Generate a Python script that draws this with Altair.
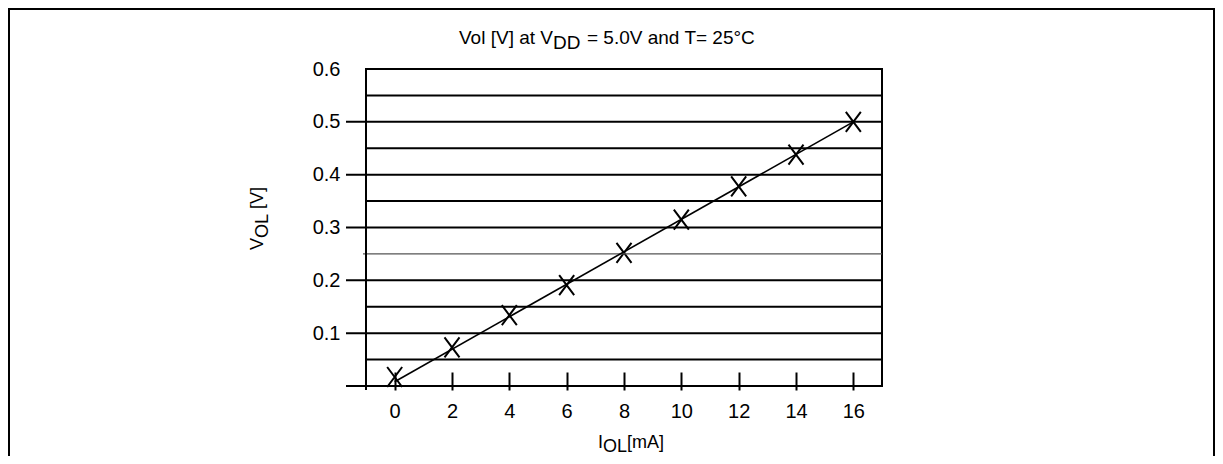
import altair as alt
import pandas as pd

# ---- data ----
current_mA = [0, 2, 4, 6, 8, 10, 12, 14, 16]
vol_V = [0.017, 0.073, 0.134, 0.191, 0.252, 0.315, 0.378, 0.438, 0.500]
fit_x = [0, 16]
fit_y = [0.008, 0.500]
x_ticks = [0, 2, 4, 6, 8, 10, 12, 14, 16]
y_labels = [0.1, 0.2, 0.3, 0.4, 0.5, 0.6]
major_grid = [0.0, 0.1, 0.2, 0.3, 0.4, 0.5]
minor_grid = [0.05, 0.15, 0.35, 0.45, 0.55]
faint_grid = [0.25]

title_parts = ["Vol [V] at V", "DD", "= 5.0V and T= 25°C"]
ytitle_parts = ["V", "OL", "[V]"]
xtitle_parts = ["I", "OL", "[mA]"]

# ---- layout / style ----
W, H = 516, 317
FONT = "Liberation Sans"
LABEL_SIZE = 20

xs = alt.Scale(domain=[-1, 17], nice=False, zero=False)
ys = alt.Scale(domain=[0, 0.6], nice=False, zero=False)

pts = pd.DataFrame({"x": current_mA, "y": vol_V})
fit = pd.DataFrame({"x": fit_x, "y": fit_y})

x_axis = alt.Axis(values=x_ticks, offset=-14, domain=False, grid=False,
                  tickSize=18, tickWidth=2, tickColor="black",
                  labelFontSize=LABEL_SIZE, labelFont=FONT, labelColor="black",
                  labelPadding=27, labelBaseline="alphabetic",
                  labelFlush=False, labelOverlap=False, labelBound=False)
y_axis = alt.Axis(values=y_labels, domain=False, grid=False, ticks=False,
                  tickSize=0, labelFontSize=LABEL_SIZE, labelFont=FONT,
                  labelColor="black", labelPadding=26, format=".1f",
                  labelOverlap=False, labelBound=False, labelFlush=False)

x_enc = alt.X("x:Q", scale=xs, title=None, axis=x_axis)
y_enc = alt.Y("y:Q", scale=ys, title=None, axis=y_axis)


def hrules(vals, x0, width, color):
    return alt.Chart(pd.DataFrame({"y": vals})).mark_rule(
        color=color, strokeWidth=width
    ).encode(y=y_enc, x=alt.value(x0), x2=alt.value(W))


def txt(s, x, y, size, angle=0):
    return alt.Chart(alt.Data(values=[{"t": s}])).mark_text(
        font=FONT, fontSize=size, align="left", baseline="alphabetic",
        angle=angle, color="black",
    ).encode(x=alt.value(x), y=alt.value(y), text="t:N")


def vline(x, y0, y1, width=2):
    return alt.Chart(alt.Data(values=[{}])).mark_rule(
        color="black", strokeWidth=width
    ).encode(x=alt.value(x), y=alt.value(y0), y2=alt.value(y1))


def hline(y, x0, x1, width=2):
    return alt.Chart(alt.Data(values=[{}])).mark_rule(
        color="black", strokeWidth=width
    ).encode(y=alt.value(y), x=alt.value(x0), x2=alt.value(x1))


markers = alt.Chart(pts).mark_point(
    shape="M-0.75,-1L0.75,1M-0.75,1L0.75,-1", size=400, filled=False,
    stroke="black", strokeWidth=2, opacity=1,
).encode(x=x_enc, y=y_enc)

major = hrules(major_grid, -20, 2, "black")
minor = hrules(minor_grid, 0, 2, "black")
faint = hrules(faint_grid, -3, 1.2, "#555555")

line = alt.Chart(fit).mark_line(color="black", strokeWidth=1.6).encode(
    x=x_enc, y=y_enc,
)

left_axis = vline(0, 0, H + 4)

title = [
    txt(title_parts[0], 93, -25, 19),
    txt(title_parts[1], 187, -20, 19),
    txt(title_parts[2], 221, -25, 19),
]
xtitle = [
    txt(xtitle_parts[0], 232, 379, 18),
    txt(xtitle_parts[1], 237, 383, 18),
    txt(xtitle_parts[2], 261, 379, 18),
]
ytitle = [
    txt(ytitle_parts[0], -103, 181, 18, 270),
    txt(ytitle_parts[1], -98, 169, 18, 270),
    txt(ytitle_parts[2], -103, 140, 18, 270),
]

border = [
    vline(-357, -61, 390),
    hline(-60, -358, 849),
    vline(848, -61, 390),
]

chart = alt.layer(
    markers, faint, minor, major, line, left_axis,
    *title, *xtitle, *ytitle, *border,
).properties(
    width=W, height=H,
    padding={"left": 358, "top": 61, "right": 333, "bottom": 70},
    autosize=alt.AutoSizeParams(type="none"),
).configure_view(
    stroke="black", strokeWidth=2
).configure_axis(
    labelFontSize=LABEL_SIZE, labelFont=FONT, labelColor="black"
)

chart.save("out.html", embed_options={"renderer": "svg", "actions": False})
